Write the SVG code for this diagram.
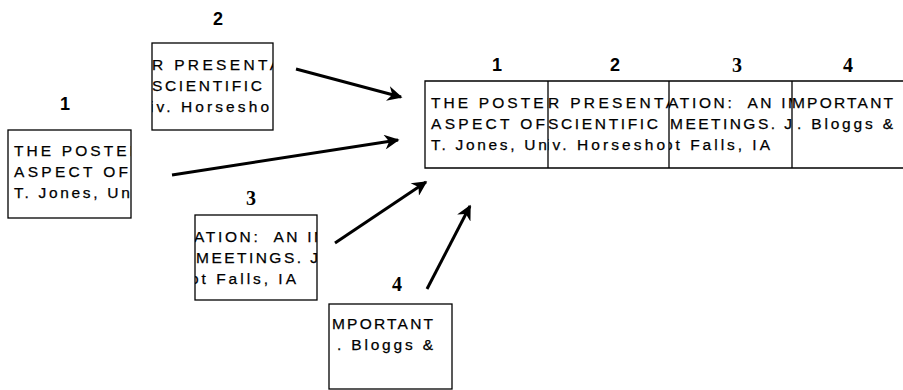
<svg xmlns="http://www.w3.org/2000/svg" xmlns:xlink="http://www.w3.org/1999/xlink" width="903" height="390" viewBox="0 0 903 390">
<style>
.t{font-family:"Liberation Sans",Arial,sans-serif;font-size:15.5px;fill:#000;stroke:#000;stroke-width:0.25;white-space:pre}
.box{fill:#fff;stroke:#000;stroke-width:1.3}
.ln{stroke:#000;stroke-width:1.3;fill:none}
.ls{font-family:"Liberation Sans",Arial,sans-serif;font-size:18px;font-weight:bold;fill:#000;text-anchor:middle}
.lt{font-family:"Liberation Serif","Times New Roman",serif;font-size:20px;font-weight:bold;fill:#000;text-anchor:middle}
.arr{stroke:#000;stroke-width:3;fill:none;marker-end:url(#ah)}
</style>
<defs>
<marker id="ah" viewBox="0 0 10 10" refX="9" refY="5" markerUnits="userSpaceOnUse" markerWidth="22" markerHeight="15" orient="auto">
<path d="M0,0 L10,5 L0,10 L3,5 z" fill="#000"/>
</marker>
<g id="c1">
<text class="t" x="6" y="27" textLength="127" lengthAdjust="spacing">THE POSTER</text>
<text class="t" x="6" y="48" textLength="114" lengthAdjust="spacing">ASPECT OF</text>
<text class="t" x="6" y="69" textLength="122" lengthAdjust="spacing">T. Jones, Uni</text>
</g>
<g id="c2">
<text class="t" x="0" y="27" textLength="128" lengthAdjust="spacing">R PRESENTA</text>
<text class="t" x="0" y="48" textLength="110" lengthAdjust="spacing">SCIENTIFIC</text>
<text class="t" x="-2" y="69" textLength="119" lengthAdjust="spacing">iv. Horsesho</text>
</g>
<g id="c3">
<text class="t" x="-1" y="27" textLength="133" lengthAdjust="spacing">ATION:  AN IM</text>
<text class="t" x="1" y="48" textLength="122" lengthAdjust="spacing">MEETINGS. J</text>
<text class="t" x="-5" y="69" textLength="106" lengthAdjust="spacing">ot Falls, IA</text>
</g>
<g id="c4">
<text class="t" x="0" y="27" textLength="101" lengthAdjust="spacing">MPORTANT</text>
<text class="t" x="5" y="48" textLength="96" lengthAdjust="spacing">. Bloggs &amp;</text>
</g>
<clipPath id="k1"><rect x="8" y="130" width="123" height="88"/></clipPath>
<clipPath id="k2"><rect x="152" y="43" width="121" height="87"/></clipPath>
<clipPath id="k3"><rect x="195" y="215" width="122" height="85"/></clipPath>
<clipPath id="k4"><rect x="329" y="304" width="123" height="85"/></clipPath>
<clipPath id="s1"><rect x="425" y="81" width="123" height="87"/></clipPath>
<clipPath id="s2"><rect x="548" y="81" width="121" height="87"/></clipPath>
<clipPath id="s3"><rect x="669" y="81" width="123" height="87"/></clipPath>
<clipPath id="s4"><rect x="792" y="81" width="123" height="87"/></clipPath>
</defs>
<rect width="903" height="390" fill="#fff"/>

<g id="node-box1">
<rect class="box" x="8" y="130" width="123" height="88"/>
<g clip-path="url(#k1)"><use xlink:href="#c1" href="#c1" transform="translate(8,129)"/></g>
<text class="ls" x="65" y="110">1</text>
</g>
<g id="node-box2">
<rect class="box" x="152" y="43" width="121" height="87"/>
<g clip-path="url(#k2)"><use xlink:href="#c2" href="#c2" transform="translate(152,43)"/></g>
<text class="ls" x="218" y="25">2</text>
</g>
<g id="node-box3">
<rect class="box" x="195" y="215" width="122" height="85"/>
<g clip-path="url(#k3)"><use xlink:href="#c3" href="#c3" transform="translate(195,215)"/></g>
<text class="lt" x="251" y="205">3</text>
</g>
<g id="node-box4">
<rect class="box" x="329" y="304" width="123" height="85"/>
<g clip-path="url(#k4)"><use xlink:href="#c4" href="#c4" transform="translate(332,302)"/></g>
<text class="lt" x="397" y="291">4</text>
</g>

<g id="node-strip">
<g clip-path="url(#s1)"><use xlink:href="#c1" href="#c1" transform="translate(425,81)"/></g>
<g clip-path="url(#s2)"><use xlink:href="#c2" href="#c2" transform="translate(548,81)"/></g>
<g clip-path="url(#s3)"><use xlink:href="#c3" href="#c3" transform="translate(669,81)"/></g>
<g clip-path="url(#s4)"><use xlink:href="#c4" href="#c4" transform="translate(792,81)"/></g>
<path class="ln" d="M903,81 H425 V168 H903 M548,81 V168 M669,81 V168 M792,81 V168"/>
<text class="ls" x="497" y="71">1</text>
<text class="ls" x="615" y="71">2</text>
<text class="lt" x="737" y="72">3</text>
<text class="lt" x="848" y="72">4</text>
</g>

<g id="connectors">
<line class="arr" x1="296" y1="69" x2="401" y2="97"/>
<line class="arr" x1="172" y1="175" x2="398" y2="140"/>
<line class="arr" x1="335" y1="243" x2="426" y2="182"/>
<line class="arr" x1="427" y1="289" x2="470" y2="206"/>
</g>
</svg>
